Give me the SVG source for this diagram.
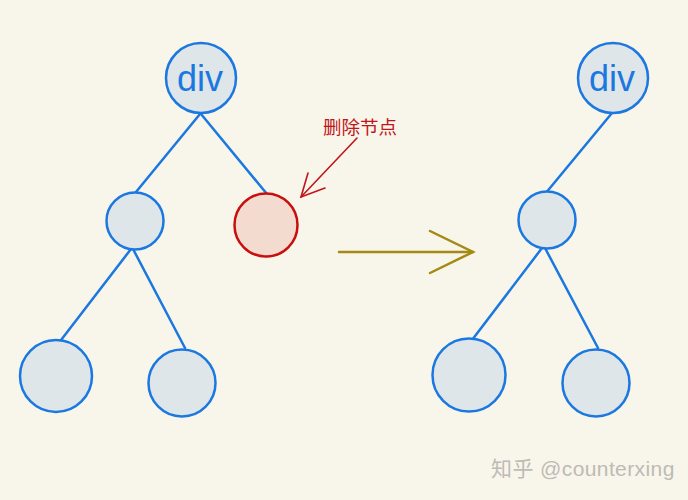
<svg xmlns="http://www.w3.org/2000/svg" width="688" height="500" viewBox="0 0 688 500">
<style>
.n{fill:#dfe6ea;stroke:#1a78e0;stroke-width:2.5}
.e{stroke:#1a78e0;stroke-width:2.5;fill:none;stroke-linecap:round}
.lbl{font-family:"Liberation Sans",Arial,sans-serif;font-size:36px;fill:#1a78e0;text-anchor:middle}
</style>
<rect width="688" height="500" fill="#f8f5ea"/>
<g id="connectors">
<line class="e" x1="200" y1="114" x2="136" y2="192"/>
<line class="e" x1="201" y1="114" x2="267" y2="194"/>
<line class="e" x1="131" y1="249" x2="58" y2="344"/>
<line class="e" x1="133" y1="249" x2="185" y2="348"/>
<line class="e" x1="612" y1="113" x2="545" y2="194"/>
<line class="e" x1="542" y1="248" x2="469" y2="344"/>
<line class="e" x1="545" y1="248" x2="598" y2="348"/>
<g stroke="#a48a12" stroke-width="2.5" fill="none" stroke-linecap="round">
<line x1="339" y1="252" x2="473" y2="252"/>
<polyline points="430,231 473,252 430,273"/>
</g>
<g stroke="#c0161a" stroke-width="1.6" fill="none" stroke-linecap="round">
<line x1="357" y1="138" x2="301" y2="197"/>
<polyline points="308,173 301,197 325,188"/>
</g>
</g>
<g id="root-left"><circle class="n" cx="201" cy="78" r="35"/><text class="lbl" x="200" y="91">div</text></g>
<g id="child-left"><circle class="n" cx="135" cy="221" r="28.5"/></g>
<g id="deleted"><circle cx="266" cy="225" r="31.5" fill="#f3dccf" stroke="#c80f0f" stroke-width="2.5"/></g>
<g id="gc-left-1"><circle class="n" cx="56" cy="376" r="36"/></g>
<g id="gc-left-2"><circle class="n" cx="182" cy="383" r="33.5"/></g>
<g id="root-right"><circle class="n" cx="613" cy="78" r="35"/><text class="lbl" x="612" y="91">div</text></g>
<g id="child-right"><circle class="n" cx="547" cy="220" r="28.5"/></g>
<g id="gc-right-1"><circle class="n" cx="469" cy="375" r="36.5"/></g>
<g id="gc-right-2"><circle class="n" cx="596" cy="383" r="33.5"/></g>
<g id="label-delete"><text x="323" y="134" font-family="'Noto Sans CJK SC',sans-serif" font-size="18.5" fill="#c0161a">删除节点</text></g>
<text x="491" y="476" font-family="'Liberation Sans','Noto Sans CJK SC',sans-serif" font-size="21" letter-spacing="0.4" fill="#bdbbb6">知乎 @counterxing</text>
</svg>
